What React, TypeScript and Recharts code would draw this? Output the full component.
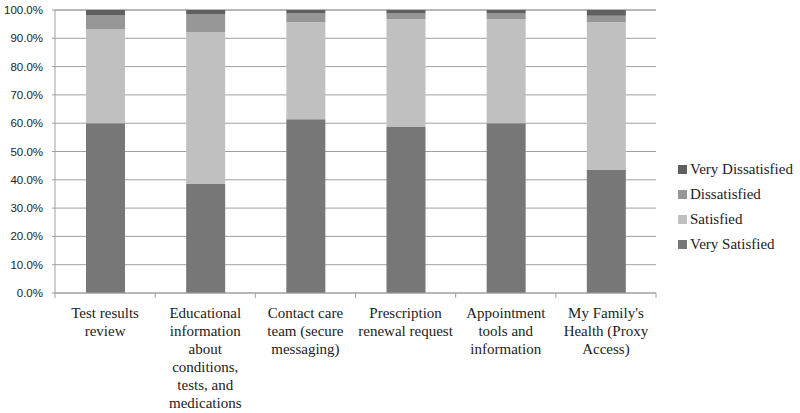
import React from "react";
import { BarChart, Bar, XAxis, YAxis, CartesianGrid } from "recharts";

const categories = [
  "Test results\nreview",
  "Educational\ninformation\nabout\nconditions,\ntests, and\nmedications",
  "Contact care\nteam (secure\nmessaging)",
  "Prescription\nrenewal request",
  "Appointment\ntools and\ninformation",
  "My Family's\nHealth (Proxy\nAccess)",
];
const verySatisfied = [60.0, 38.5, 61.4, 58.8, 60.0, 43.5];
const satisfied = [33.3, 53.7, 34.3, 38.0, 36.8, 52.2];
const dissatisfied = [4.9, 6.4, 3.2, 2.0, 2.0, 2.3];
const veryDissatisfied = [1.8, 1.4, 1.1, 1.2, 1.2, 2.0];
const yTicks = [0, 10, 20, 30, 40, 50, 60, 70, 80, 90, 100];

const seriesNames = ["Very Satisfied", "Satisfied", "Dissatisfied", "Very Dissatisfied"];
const seriesKeys = ["vs", "s", "d", "vd"];
const seriesColors = ["#777777", "#c0c0c0", "#969696", "#5f5f5f"];

const data = categories.map((c, i) => ({
  name: c,
  vs: verySatisfied[i],
  s: satisfied[i],
  d: dissatisfied[i],
  vd: veryDissatisfied[i],
}));

const W = 800;
const H = 413;
const MARGIN = { top: 10, right: 144, bottom: 0, left: 0 };
const Y_W = 55;
const PLOT_W = W - MARGIN.left - MARGIN.right - Y_W;
const BAND = PLOT_W / categories.length;
const AXIS_COLOR = "#a0a0a0";

const XTick = (props: any) => {
  const { x, y, payload, index } = props;
  const lines = String(payload.value).split("\n");
  return (
    <g>
      <line x1={x - BAND / 2} x2={x - BAND / 2} y1={y} y2={y + 5} stroke={AXIS_COLOR} />
      {index === categories.length - 1 && (
        <line x1={x + BAND / 2} x2={x + BAND / 2} y1={y} y2={y + 5} stroke={AXIS_COLOR} />
      )}
      <text
        x={x}
        y={y + 25}
        textAnchor="middle"
        fontFamily="'Liberation Serif', 'Times New Roman', serif"
        fontSize={15}
        fill="#222"
      >
        {lines.map((l, i) => (
          <tspan key={i} x={x} dy={i === 0 ? 0 : 18}>
            {l}
          </tspan>
        ))}
      </text>
    </g>
  );
};

const LegendBox = () => {
  const idx = [3, 2, 1, 0];
  return (
    <div
      style={{
        position: "absolute",
        left: 678,
        top: 157,
        fontFamily: "'Liberation Serif', 'Times New Roman', serif",
        fontSize: 15,
        color: "#222",
      }}
    >
      {idx.map((i) => (
        <div key={i} style={{ display: "flex", alignItems: "center", height: 25, whiteSpace: "nowrap" }}>
          <span style={{ width: 9, height: 9, background: seriesColors[i], marginRight: 3, display: "inline-block" }} />
          <span>{seriesNames[i]}</span>
        </div>
      ))}
    </div>
  );
};

export default function App() {
  return (
    <div style={{ position: "absolute", left: 0, top: 0, width: W, height: H, background: "#fff" }}>
      <BarChart width={W} height={H} data={data} margin={MARGIN}>
        <CartesianGrid vertical={false} stroke={AXIS_COLOR} strokeWidth={1} />
        <XAxis
          dataKey="name"
          interval={0}
          height={120}
          tickSize={0}
          tickMargin={0}
          tickLine={false}
          tick={<XTick />}
          stroke={AXIS_COLOR}
        />
        <YAxis
          width={Y_W}
          domain={[0, 100]}
          ticks={yTicks}
          tickSize={3}
          tickMargin={9}
          stroke={AXIS_COLOR}
          tickFormatter={(v: number) => v.toFixed(1) + "%"}
          tick={{ fill: "#222", fontSize: 11.5, fontFamily: "'Liberation Sans', Arial, sans-serif" }}
        />
        {seriesKeys.map((k, i) => (
          <Bar
            key={k}
            dataKey={k}
            name={seriesNames[i]}
            stackId="a"
            fill={seriesColors[i]}
            barSize={39}
            isAnimationActive={false}
          />
        ))}
      </BarChart>
      <LegendBox />
    </div>
  );
}
